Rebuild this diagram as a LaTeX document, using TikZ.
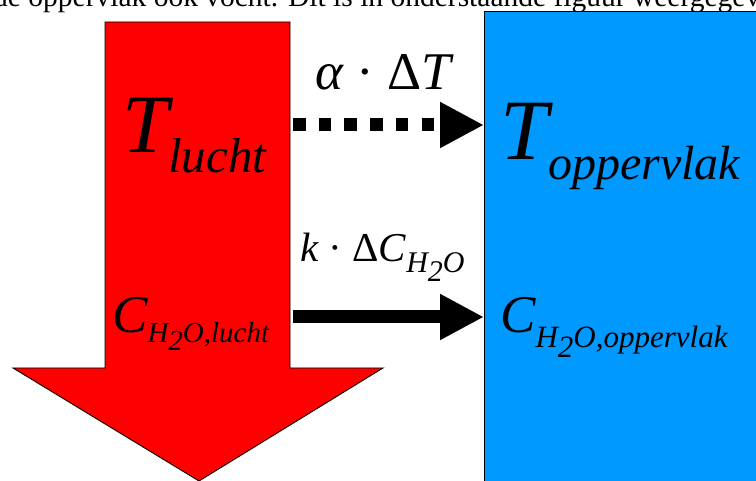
\documentclass[tikz,border=0pt]{standalone}
\usepackage{fontspec}
\setmainfont{Liberation Serif}
\usetikzlibrary{arrows.meta}
\definecolor{oppblauw}{RGB}{0,153,255}
\newcommand{\fs}[1]{\fontsize{#1}{#1}\selectfont}
\tikzset{blok/.style={draw=black, line width=0.9pt},
label_t/.style={inner sep=0pt, anchor=base west, font=\itshape},
warmte/.style={line width=13pt, dash pattern=on 12.5pt off 13.2pt, -{Triangle[length=44pt, width=43pt]}},
vocht/.style={line width=13pt, -{Triangle[length=44pt, width=43pt]}}}

\begin{document}
\begin{tikzpicture}[x=1pt, y=-1pt]
  \useasboundingbox (0,0) rectangle (756,481);
  \clip (0,0) rectangle (756,481);
  \node[inner sep=0pt, anchor=base west, font=\fs{29.5}] (zin) at (-7,7) {de oppervlak ook vocht. Dit is in onderstaande figuur weergegeven};
  % lucht en oppervlak
  \path[blok, fill=red] (105,22) -- (290,22) -- (290,368) -- (383,368) -- (199,481) -- (13,368) -- (105,368) -- cycle;
  \node[blok, fill=oppblauw, anchor=north west, minimum width=300pt, minimum height=500pt] (vlak) at (484,11) {};
  \node[label_t] (Tl) at (122,153) {\fs{83}T\raisebox{-20pt}{\fs{49}lucht}};
  \node[label_t] (To) at (500,160) {\fs{86}T\raisebox{-20pt}{\fs{48}oppervlak}};
  \node[label_t] (Cl) at (112,333) {\fs{53}C\raisebox{-10pt}{\fs{29}H\raisebox{-8pt}{2}O,lucht}};
  \node[label_t] (Co) at (500,333) {\fs{53}C\raisebox{-15pt}{\fs{31}H\raisebox{-10pt}{2}O,oppervlak}};
  % stromen
  \coordinate (qT) at (293,125);
  \coordinate (qC) at (293,317);
  \draw[warmte] (qT) -- (vlak.west |- qT);
  \draw[vocht] (qC) -- (vlak.west |- qC);
  \node[label_t] (aT) at (315,90) {\fs{53}α \upshape· Δ\itshape T};
  \node[label_t] (kC) at (300,262) {\fs{41}k \upshape· Δ\itshape C\raisebox{-11pt}{\fs{30}H\raisebox{-9pt}{2}O}};
\end{tikzpicture}
\end{document}
